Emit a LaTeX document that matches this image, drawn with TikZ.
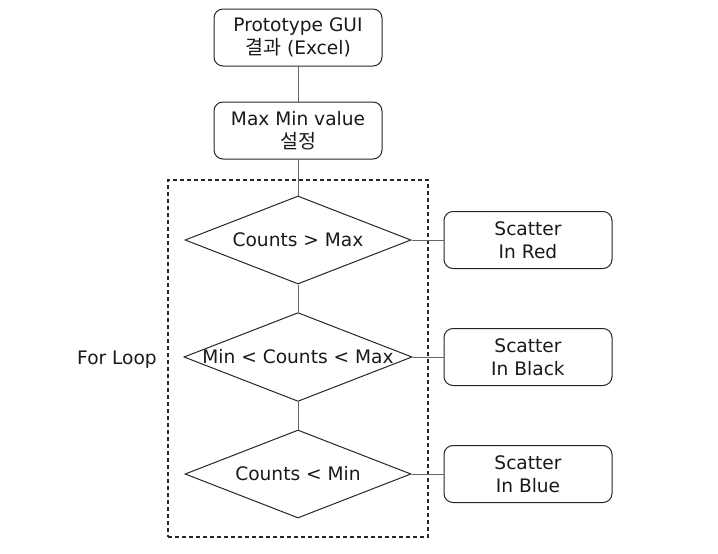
\documentclass[tikz,border=0pt]{standalone}
\usepackage{fontspec}
\setmainfont{DejaVu Sans}
\newfontfamily\kr{Noto Sans CJK KR}
\usetikzlibrary{shapes.geometric}
\begin{document}
\begin{tikzpicture}[x=1pt,y=-1pt,
  every node/.style={font=\fontsize{18.6}{23}\selectfont, text=black!90},
  procbox/.style={draw=black!85, line width=1pt, rounded corners=9pt, minimum width=168pt, minimum height=57pt, align=center, inner sep=0pt},
  decision/.style={draw=black!85, line width=1pt, diamond, aspect=2.57, minimum width=226pt, minimum height=88pt, inner sep=0pt},
  loopbox/.style={draw=black!85, line width=1.1pt, dash pattern=on 4pt off 3pt, minimum width=260pt, minimum height=357pt, inner sep=0pt},
  link/.style={draw=black!60, line width=0.8pt}]
\useasboundingbox (0,0) rectangle (718,554);
\node[loopbox] (loop) at (298,358.5) {};
\node[procbox] (gui) at (298,37.5) {Prototype GUI\\{\kr\fontsize{19.5}{23}\selectfont 결과} (Excel)};
\node[procbox] (mm) at (298,130.5) {Max Min value\\{\kr\fontsize{19.5}{23}\selectfont 설정}};
\node[decision] (d1) at (298,240) {Counts > Max};
\node[decision] (d2) at (298,357) {Min < Counts < Max};
\node[decision] (d3) at (298,474) {Counts < Min};
\node[procbox] (red) at (528,240) {Scatter\\In Red};
\node[procbox] (black) at (528,357) {Scatter\\In Black};
\node[procbox] (blue) at (528,474) {Scatter\\In Blue};
\node (lbl) at (117,360) {For Loop};
\draw[link] (gui.south) -- (mm.north);
\draw[link] (mm.south) -- (d1.north);
\draw[link] (d1.south) -- (d2.north);
\draw[link] (d2.south) -- (d3.north);
\draw[link] (d1.east) -- (red.west);
\draw[link] (d2.east) -- (black.west);
\draw[link] (d3.east) -- (blue.west);
\end{tikzpicture}
\end{document}
